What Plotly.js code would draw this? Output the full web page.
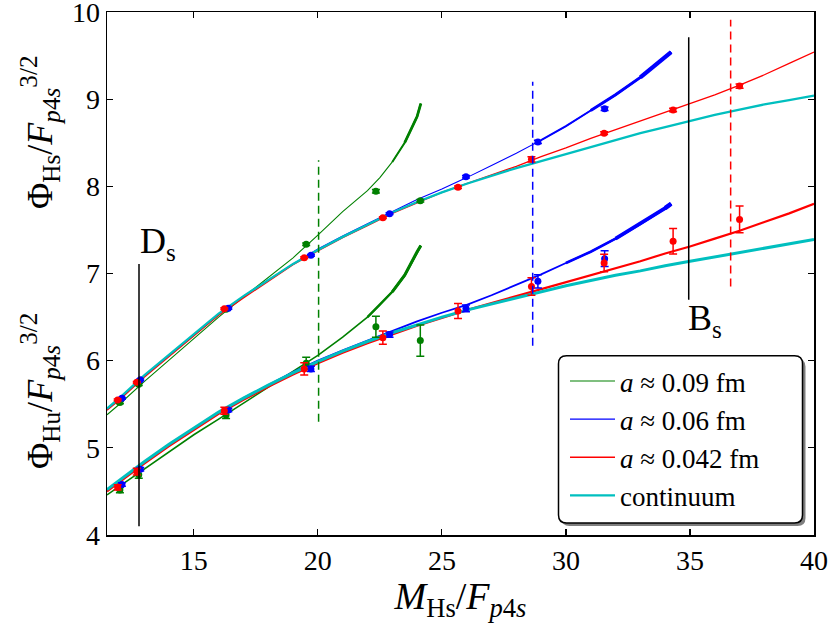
<!DOCTYPE html>
<html>
<head>
<meta charset="utf-8">
<script src="https://cdn.plot.ly/plotly-3.0.1.min.js"></script>
<style>html,body{margin:0;padding:0;background:#fff;}#chart{width:830px;height:623px;}</style>
</head>
<body>
<div id="chart"></div>
<script>
// ---- data ----
const xTicks = [15, 20, 25, 30, 35, 40];
const yTicks = [4, 5, 6, 7, 8, 9, 10];

// fit curves
const xFull = [11.5,12,13,14,15,16,17,18,19,20,21,22,23,24,25,26,27,28,29,30,31,32,33,34,35,36,37,38,39,40];
const cyanHs = [5.45,5.57,5.83,6.07,6.31,6.54,6.74,6.93,7.11,7.27,7.42,7.56,7.70,7.82,7.93,8.03,8.12,8.21,8.29,8.37,8.45,8.53,8.61,8.68,8.75,8.82,8.88,8.94,8.99,9.04];
const redHs  = [5.43,5.55,5.81,6.05,6.29,6.52,6.72,6.91,7.10,7.26,7.41,7.55,7.69,7.81,7.93,8.03,8.13,8.23,8.34,8.44,8.55,8.65,8.75,8.85,8.95,9.05,9.16,9.28,9.41,9.54];
const cyanHu = [4.52,4.63,4.84,5.04,5.23,5.41,5.57,5.72,5.86,5.99,6.11,6.22,6.32,6.41,6.50,6.58,6.65,6.72,6.79,6.86,6.92,6.98,7.03,7.09,7.14,7.19,7.24,7.29,7.34,7.39];
const redHu  = [4.50,4.61,4.82,5.02,5.21,5.39,5.55,5.70,5.84,5.97,6.09,6.20,6.30,6.40,6.49,6.58,6.66,6.74,6.82,6.90,6.98,7.06,7.14,7.23,7.31,7.40,7.49,7.59,7.69,7.80];

const xBlue  = [11.5,12,13,14,15,16,17,18,19,20,21,22,23,24,25,26,27,28,29,30,31,32,33,34,34.24];
const blueHs = [5.44,5.56,5.82,6.06,6.30,6.53,6.74,6.93,7.11,7.28,7.43,7.57,7.71,7.85,7.97,8.10,8.24,8.38,8.53,8.69,8.87,9.05,9.25,9.48,9.54];
const blueHu = [4.51,4.62,4.83,5.03,5.22,5.40,5.57,5.72,5.87,6.00,6.12,6.23,6.34,6.45,6.55,6.64,6.75,6.87,6.99,7.12,7.25,7.40,7.57,7.75,7.80];

const xGreen  = [11.5,12,13,14,15,16,17,18,19,20,21,22,22.5,23,23.5,24,24.15];
const greenHs = [5.38,5.50,5.76,6.01,6.26,6.50,6.73,6.95,7.18,7.44,7.71,7.95,8.10,8.28,8.50,8.80,8.95];
const greenHu = [4.46,4.56,4.76,4.96,5.15,5.33,5.51,5.69,5.87,6.06,6.27,6.50,6.64,6.79,6.98,7.25,7.32];

// lattice data points
const greenX     = [12.02,12.78,16.30,19.53,22.34,24.13];
const greenHsPts = [5.52,5.73,6.59,7.335,7.943,7.835];
const greenHsErr = [0.015,0.015,0.015,0.015,0.02,0.015];
const greenHuPts = [4.516,4.69,5.377,5.97,6.39,6.23];
const greenHuErr = [0.03,0.04,0.04,0.07,0.12,0.18];

const blueX     = [12.10,12.84,16.39,19.72,22.89,25.97,28.87,31.56];
const blueHsPts = [5.568,5.78,6.60,7.209,7.686,8.11,8.51,8.89];
const blueHsErr = [0.01,0.01,0.01,0.01,0.01,0.015,0.02,0.02];
const blueHuPts = [4.58,4.754,5.434,5.905,6.30,6.60,6.91,7.17];
const blueHuErr = [0.02,0.02,0.02,0.03,0.03,0.04,0.077,0.09];

const redX     = [11.93,12.70,16.23,19.45,22.62,25.65,28.61,31.54,34.32,37.0];
const redHsPts = [5.55,5.752,6.596,7.182,7.64,7.99,8.31,8.61,8.875,9.15];
const redHsErr = [0.01,0.01,0.01,0.01,0.01,0.015,0.03,0.015,0.02,0.025];
const redHuPts = [4.547,4.727,5.426,5.905,6.264,6.57,6.85,7.12,7.37,7.62];
const redHuErr = [0.03,0.04,0.04,0.07,0.077,0.087,0.10,0.10,0.147,0.153];

// vertical reference lines
const mesonX  = [12.79, 34.95];        // D_s, B_s
const mesonY0 = [4.10, 6.70];
const mesonY1 = [7.11, 9.71];
const cutX    = [20.03, 28.66, 36.64]; // a=0.09, 0.06, 0.042 cutoffs
const cutY0   = [5.30, 6.17, 6.85];
const cutY1   = [8.30, 9.20, 9.91];

const legendNames = ['<i>a</i> ≈ 0.09 fm', '<i>a</i> ≈ 0.06 fm', '<i>a</i> ≈ 0.042 fm', 'continuum'];

// ---- styling ----
const GREEN = '#008000', BLUE = '#0000ff', RED = '#ff0000', CYAN = '#00bfbf';
const traces = [];
function curve(x, y, color, w, opts) {
  traces.push(Object.assign({x: x, y: y, type: 'scatter', mode: 'lines',
    line: {color: color, width: w, shape: 'linear'},
    showlegend: false, hoverinfo: 'skip'}, opts || {}));
}
function pts(x, y, e, color) {
  traces.push({x: x, y: y, type: 'scatter', mode: 'markers',
    marker: {color: color, size: 7, symbol: 'circle'},
    error_y: {type: 'data', array: e, visible: true, color: color, thickness: 1.5, width: 4},
    showlegend: false});
}
// upper (Phi_Hs) curves
curve(xGreen, greenHs, GREEN, 1.1, {showlegend: true, name: legendNames[0], legendgroup: 'g', legendrank: 1});
curve(xGreen.slice(13), greenHs.slice(13), GREEN, 2.0);
curve(xGreen.slice(14), greenHs.slice(14), GREEN, 2.8);
curve(xBlue, blueHs, BLUE, 1.1, {showlegend: true, name: legendNames[1], legendgroup: 'b', legendrank: 2});
curve(xBlue.slice(18), blueHs.slice(18), BLUE, 2.0);
curve(xBlue.slice(20), blueHs.slice(20), BLUE, 3.0);
curve(xBlue.slice(22), blueHs.slice(22), BLUE, 4.2);
curve(xFull, redHs, RED, 1.3, {showlegend: true, name: legendNames[2], legendgroup: 'r', legendrank: 3});
curve(xFull, cyanHs, CYAN, 2.3, {showlegend: true, name: legendNames[3], legendgroup: 'c', legendrank: 4});
// lower (Phi_Hu) curves
curve(xGreen, greenHu, GREEN, 1.6);
curve(xGreen.slice(11), greenHu.slice(11), GREEN, 2.4);
curve(xGreen.slice(13), greenHu.slice(13), GREEN, 3.0);
curve(xBlue, blueHu, BLUE, 1.8);
curve(xBlue.slice(19), blueHu.slice(19), BLUE, 2.6);
curve(xBlue.slice(21), blueHu.slice(21), BLUE, 3.6);
curve(xBlue.slice(23), blueHu.slice(23), BLUE, 4.4);
curve(xFull, redHu, RED, 2.2);
curve(xFull, cyanHu, CYAN, 3.0);
// points
pts(greenX, greenHsPts, greenHsErr, GREEN);
pts(greenX, greenHuPts, greenHuErr, GREEN);
pts(blueX, blueHsPts, blueHsErr, BLUE);
pts(blueX, blueHuPts, blueHuErr, BLUE);
pts(redX, redHsPts, redHsErr, RED);
pts(redX, redHuPts, redHuErr, RED);

// plot-area geometry (px)
const L = 107, R = 16, T = 12, B = 88, W = 830, H = 623;
const PW = W - L - R, PH = H - T - B;
const px = v => (v - L) / PW;
const py = v => (H - B - v) / PH;
function roundRect(x0, y0, x1, y1, r) {
  const rx = r / PW, ry = r / PH;
  const a = px(x0), b = px(x1), c = py(y0), d = py(y1);
  return `M ${a+rx},${c} L ${b-rx},${c} Q ${b},${c} ${b},${c-ry} L ${b},${d+ry} Q ${b},${d} ${b-rx},${d} L ${a+rx},${d} Q ${a},${d} ${a},${d+ry} L ${a},${c-ry} Q ${a},${c} ${a+rx},${c} Z`;
}

const shapes = [];
mesonX.forEach((x, i) => shapes.push({type: 'line', xref: 'x', yref: 'y', x0: x, x1: x, y0: mesonY0[i], y1: mesonY1[i],
  line: {color: 'black', width: 1.5}}));
[GREEN, BLUE, RED].forEach((c, i) => shapes.push({type: 'line', xref: 'x', yref: 'y', x0: cutX[i], x1: cutX[i], y0: cutY0[i], y1: cutY1[i],
  line: {color: c, width: 1.5, dash: '8px,5px'}}));
// legend frame with shadow
shapes.push({type: 'path', xref: 'paper', yref: 'paper', path: roundRect(561.5, 358.8, 805.5, 526, 8),
  fillcolor: 'rgba(0,0,0,0.5)', line: {width: 0}, layer: 'above'});
shapes.push({type: 'path', xref: 'paper', yref: 'paper', path: roundRect(558.5, 355.8, 802.5, 523, 8),
  fillcolor: 'white', line: {color: 'black', width: 1.5}, layer: 'above'});

const FONT = "'Liberation Serif', 'DejaVu Serif', serif";
const annotations = [
  {xref: 'x', yref: 'y', x: mesonX[0], y: mesonY1[0], xanchor: 'left', yanchor: 'bottom', xshift: -1, yshift: -4,
   text: 'D<sub>s</sub>', showarrow: false, font: {family: FONT, size: 36, color: 'black'}},
  {xref: 'x', yref: 'y', x: mesonX[1], y: mesonY0[1], xanchor: 'left', yanchor: 'top', xshift: -3, yshift: 4,
   text: 'B<sub>s</sub>', showarrow: false, font: {family: FONT, size: 36, color: 'black'}},
  {xref: 'paper', yref: 'paper', x: px(40), y: py(132), xanchor: 'center', yanchor: 'middle', textangle: -90,
   text: 'Φ<sub>Hs</sub>/<i>F</i><sub><i>p</i>4<i>s</i></sub><sup>3/2</sup>', showarrow: false,
   font: {family: FONT, size: 36, color: 'black'}},
  {xref: 'paper', yref: 'paper', x: px(40), y: py(391), xanchor: 'center', yanchor: 'middle', textangle: -90,
   text: 'Φ<sub>Hu</sub>/<i>F</i><sub><i>p</i>4<i>s</i></sub><sup>3/2</sup>', showarrow: false,
   font: {family: FONT, size: 36, color: 'black'}}
];

const axisCommon = {ticks: 'inside', ticklen: 6, tickwidth: 1.2, tickcolor: 'black', showline: true,
  linecolor: 'black', linewidth: 1.5, mirror: 'allticks', showgrid: false, zeroline: false,
  ticklabeloverflow: 'allow',
  tickfont: {family: FONT, size: 28, color: 'black'}};

const layout = {
  width: W, height: H, margin: {l: L, r: R, t: T, b: B},
  paper_bgcolor: 'white', plot_bgcolor: 'white',
  font: {family: FONT, color: 'black', size: 26},
  xaxis: Object.assign({}, axisCommon, {range: [11.5, 40], tickvals: xTicks, ticktext: xTicks.map(String),
    title: {text: '<i>M</i><sub>Hs</sub>/<i>F</i><sub><i>p</i>4<i>s</i></sub>', font: {family: FONT, size: 38, color: 'black'}, standoff: 0}}),
  yaxis: Object.assign({}, axisCommon, {range: [4, 10], tickvals: yTicks, ticktext: yTicks.map(String)}),
  showlegend: true,
  legend: {x: px(565), y: py(357), xanchor: 'left', yanchor: 'top', bgcolor: 'rgba(0,0,0,0)', borderwidth: 0,
    font: {family: FONT, size: 27, color: 'black'}, tracegroupgap: 1, traceorder: 'normal', itemwidth: 45},
  shapes: shapes,
  annotations: annotations
};

Plotly.newPlot('chart', traces, layout, {displayModeBar: false, staticPlot: true});
</script>
</body>
</html>
